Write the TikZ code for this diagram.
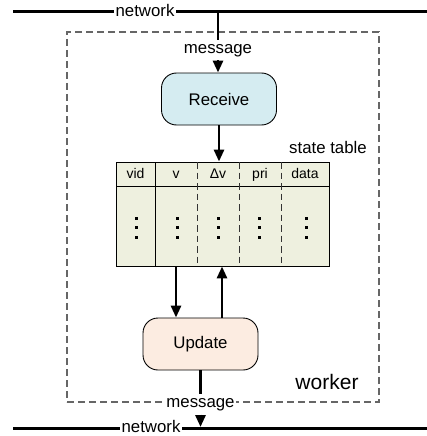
\documentclass[tikz,border=0pt]{standalone}
\usepackage{fontspec}
\setmainfont{Liberation Sans}
\usetikzlibrary{arrows.meta}

\definecolor{rcvfill}{HTML}{D5ECF1}
\definecolor{updfill}{HTML}{FCECE1}
\definecolor{tblfill}{HTML}{EEF0DF}
\definecolor{boxgray}{HTML}{666666}

\begin{document}
\begin{tikzpicture}[x=1pt,y=-1pt,
  proc/.style={draw=black, line width=0.9pt, rounded corners=15pt,
    minimum width=115pt, minimum height=52pt, inner sep=0pt,
    font=\fontsize{16.8}{20}\selectfont},
  lbl/.style={font=\fontsize{16.8}{20}\selectfont, inner sep=1pt},
  wlbl/.style={lbl, fill=white, inner xsep=1.5pt},
  net/.style={line width=3pt},
  flow/.style={line width=2.8pt, -{Triangle[length=12pt,width=10pt]}},
  hdr/.style={font=\fontsize{14}{16}\selectfont, inner sep=0pt, anchor=base},
  coldash/.style={line width=1pt, dash pattern=on 6.5pt off 4pt, draw=black!80},
  wkbox/.style={draw=boxgray, line width=1.1pt, dash pattern=on 7pt off 4pt},
]
\useasboundingbox (0,0) rectangle (427,436);

% worker frame
\node[wkbox, minimum width=312pt, minimum height=370pt, inner sep=0pt] (wk) at (223,217) {};
\node[lbl, anchor=base] (wklbl) at (327,389) {\fontsize{21}{24}\selectfont worker};

% network buses
\coordinate (ntl) at (13,12);
\coordinate (ntr) at (427,12);
\coordinate (nbl) at (13,428);
\coordinate (nbr) at (427,428);
\draw[net] (ntl) -- (ntr);
\draw[net] (nbl) -- (nbr);
\node[wlbl, text height=12pt, text depth=3.5pt] (nett) at (145,12) {network};
\node[wlbl, text height=12pt, text depth=3.5pt] (netb) at (151,428) {network};

% processing stages
\node[proc, fill=rcvfill] (rcv) at (219,99) {Receive};
\node[proc, fill=updfill] (upd) at (200.5,344) {Update};

% state table
\node[draw=black, line width=0.9pt, fill=tblfill, minimum width=213pt,
      minimum height=104pt, inner sep=0pt] (tbl) at (222.5,214) {};
\draw[line width=0.9pt] (116,186) -- (329,186);
\draw[line width=0.9pt] (155,162) -- (155,266);
\foreach \cx in {197,239,281}
  \draw[coldash] (\cx,162) -- (\cx,266);
\node[hdr] (hvid)  at (135.5,178) {vid};
\node[hdr] (hv)    at (176,178)   {v};
\node[hdr] (hdv)   at (218,178)   {Δv};
\node[hdr] (hpri)  at (260,178)   {pri};
\node[hdr] (hdata) at (305,178)   {data};
\foreach \cx in {136,177,218,259,306}
  \foreach \cy in {218,227.5,237}
    \fill (\cx-1.5,\cy-1.5) rectangle ++(3,3);
\node[lbl, anchor=base] (stlbl) at (328,153) {state table};

% incoming message
\coordinate (tapt) at (218,12);
\node[lbl, anchor=base, inner ysep=3.5pt] (msgin) at (218,53) {message};
\draw[line width=2.8pt] (tapt) -- (msgin.north);
\draw[flow] (msgin.south) -- (msgin.south |- rcv.north);

% receive -> table
\draw[flow] (rcv.south) -- (rcv.south |- tbl.north);

% table <-> update
\coordinate (dnx) at (176,0);
\coordinate (upx) at (222,0);
\draw[flow] (dnx |- tbl.south) -- (dnx |- upd.north);
\draw[flow] (upx |- upd.north) -- (upx |- tbl.south);

% outgoing message
\node[lbl, fill=white, anchor=base, inner xsep=1pt, inner ysep=4pt] (msgout) at (200.5,407) {message};
\draw[line width=2.8pt] (upd.south) -- (msgout.north);
\coordinate (tapb) at (200.5,427);
\draw[flow] (msgout.south) -- (tapb);
\end{tikzpicture}
\end{document}
